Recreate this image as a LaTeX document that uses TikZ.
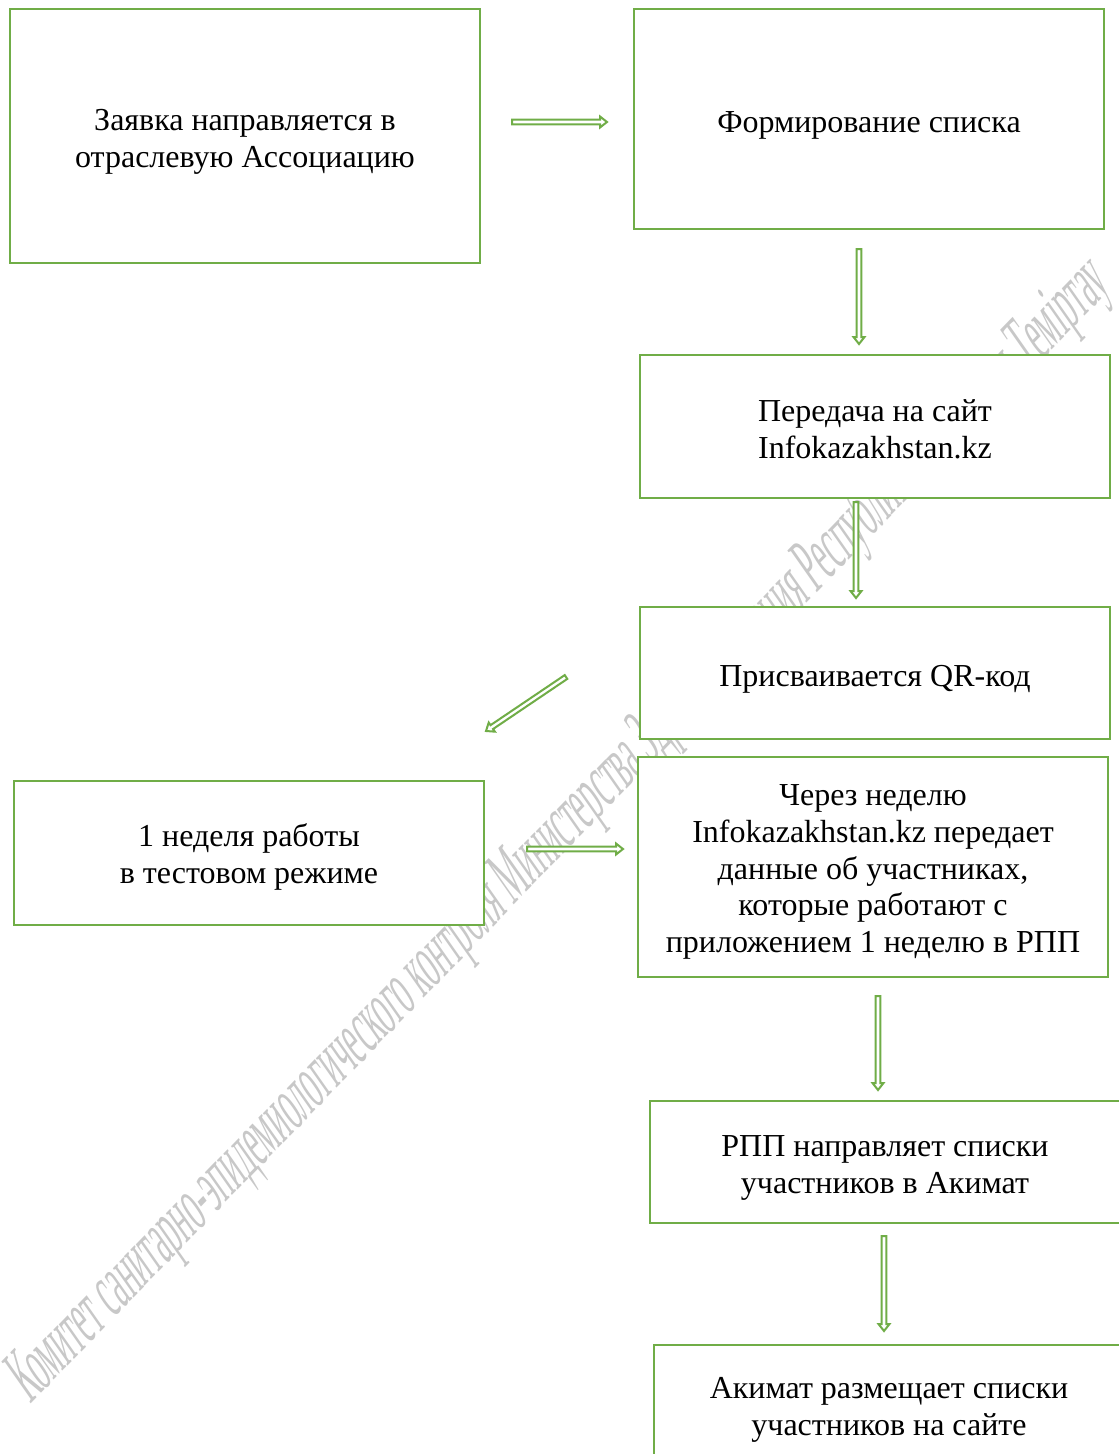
\documentclass[tikz,border=0pt]{standalone}
\usepackage{fontspec}
\setmainfont{Liberation Serif}
\newfontfamily\wmfont{Liberation Serif}
\usetikzlibrary{calc}
\definecolor{boxgreen}{HTML}{70AD47}
\definecolor{wmgray}{HTML}{C8C8C8}
\tikzset{
  stepbox/.style={draw=boxgreen, line width=2.5pt, fill=white, rectangle,
    minimum width=470pt, inner sep=0pt},
  steptext/.style={align=center, inner sep=0pt,
    font=\fontsize{32}{37}\selectfont},
  arrowline/.style={draw=boxgreen, line width=2pt, fill=white, line join=miter},
}
\newcommand\hollowarrow[2]{%
  \coordinate (ha-h) at ($(#2)!7pt!(#1)$);
  \filldraw[arrowline] ($(#1)!2.3pt!90:(#2)$) -- ($(ha-h)!2.3pt!90:(#2)$)
    -- ($(ha-h)!5.5pt!90:(#2)$) -- (#2) -- ($(ha-h)!5.5pt!-90:(#2)$)
    -- ($(ha-h)!2.3pt!-90:(#2)$) -- ($(#1)!2.3pt!-90:(#2)$) -- cycle;}
\begin{document}
\begin{tikzpicture}[x=1pt,y=-1pt]
\useasboundingbox[fill=white] (0,0) rectangle (1119,1454);
% watermark
\begin{scope}[shift={(30,1405)}, cm={0.279,0.288,-0.574,0.819,(0,0)}]
  \node[transform shape, anchor=base west, inner sep=0pt, text=wmgray,
    font=\wmfont\fontsize{78}{80}\selectfont] (wm) at (0,0)
    {Комитет санитарно-эпидемиологического контроля Министерства Здравоохранения Республики Казахстан Теміртау};
\end{scope}
% boxes
\node[stepbox, minimum height=254pt] (b1) at (245,136) {};
\node[stepbox, minimum height=220pt] (b2) at (869,119) {};
\node[stepbox, minimum height=143pt] (b3) at (875,426.5) {};
\node[stepbox, minimum height=132pt] (b4) at (875,673) {};
\node[stepbox, minimum height=220pt] (b5) at (873,867) {};
\node[stepbox, minimum height=144pt] (b6) at (249,853) {};
\node[stepbox, minimum height=122pt] (b7) at (885,1162) {};
\node[stepbox, minimum height=126pt] (b8) at (889,1408) {};
% texts
\node[steptext] (t1) at ($(b1)+(0,6)$) {Заявка направляется в\\отраслевую Ассоциацию};
\node[steptext] (t2) at ($(b2)+(0,6)$) {Формирование списка};
\node[steptext] (t3) at ($(b3)+(0,3)$) {Передача на сайт\\Infokazakhstan.kz};
\node[steptext] (t4) at ($(b4)+(0,6)$) {Присваивается QR-код};
\node[steptext, font=\fontsize{32}{36.6}\selectfont] (t5) at ($(b5)+(0,5)$) {Через неделю\\Infokazakhstan.kz передает\\данные об участниках,\\которые работают с\\приложением 1 неделю в РПП};
\node[steptext] (t6) at ($(b6)+(0,4)$) {1 неделя работы\\в тестовом режиме};
\node[steptext] (t7) at ($(b7)+(0,6)$) {РПП направляет списки\\участников в Акимат};
\node[steptext] (t8) at ($(b8)+(0,2)$) {Акимат размещает списки\\участников на сайте};
% arrows
\coordinate (a1s) at (512,122);  \coordinate (a1e) at (607,122);
\coordinate (a2s) at (859,249);  \coordinate (a2e) at (859,344);
\coordinate (a3s) at (856,502);  \coordinate (a3e) at (856,598);
\coordinate (a4s) at (566,677);  \coordinate (a4e) at (486,731);
\coordinate (a5s) at (527,849);  \coordinate (a5e) at (623,849);
\coordinate (a6s) at (878,996);  \coordinate (a6e) at (878,1090);
\coordinate (a7s) at (884,1236); \coordinate (a7e) at (884,1331);
\hollowarrow{a1s}{a1e}
\hollowarrow{a2s}{a2e}
\hollowarrow{a3s}{a3e}
\hollowarrow{a4s}{a4e}
\hollowarrow{a5s}{a5e}
\hollowarrow{a6s}{a6e}
\hollowarrow{a7s}{a7e}
\end{tikzpicture}
\end{document}
